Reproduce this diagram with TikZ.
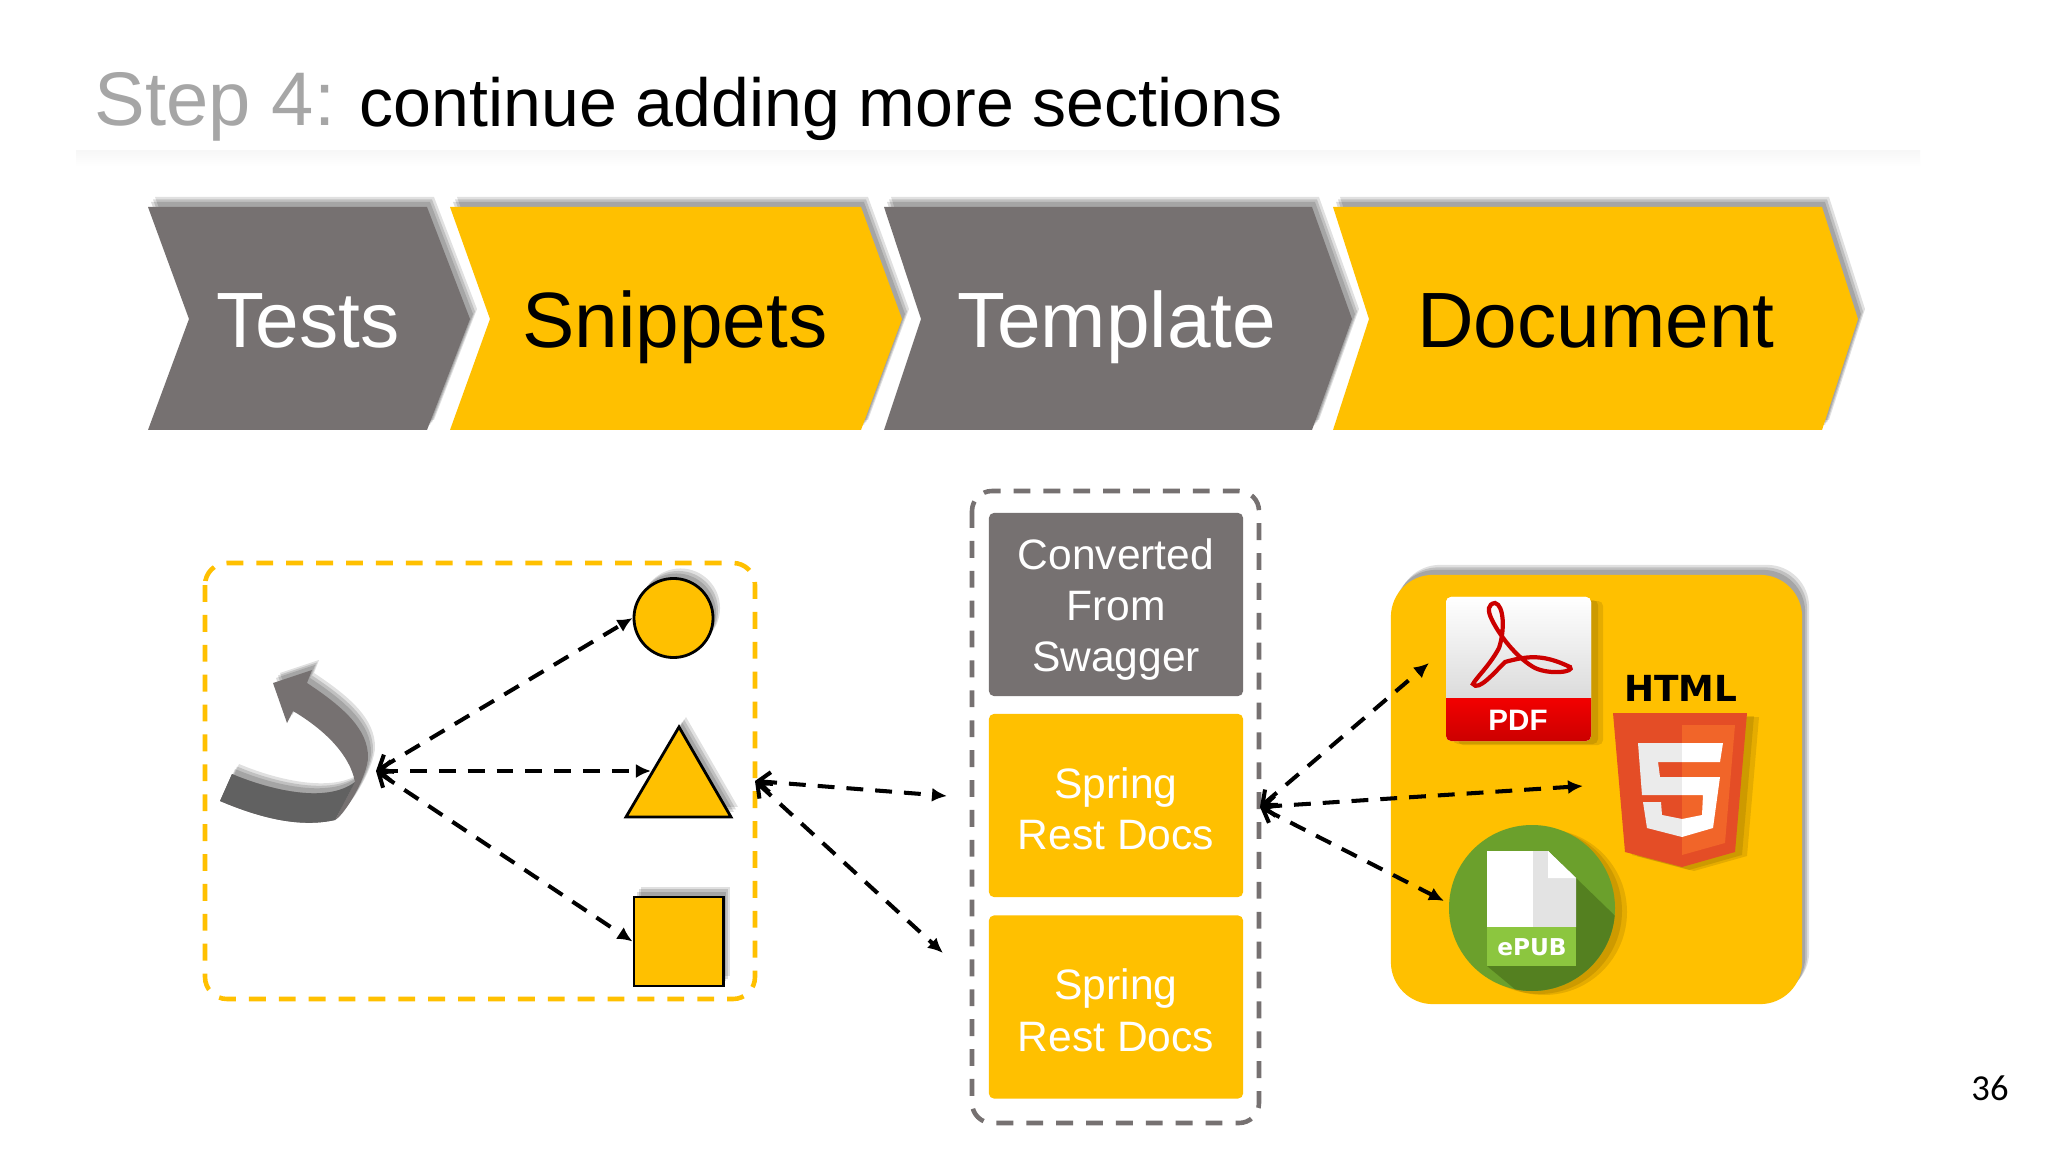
\documentclass[tikz,border=0pt]{standalone}
\usepackage{fontspec}
\setmainfont{Liberation Sans}
\newfontfamily\slidefont{Carlito}
\newfontfamily\iconfont{DejaVu Sans}
\usetikzlibrary{arrows.meta,shadows}
\definecolor{sgray}{HTML}{767171}
\definecolor{syellow}{HTML}{FFC000}
\definecolor{stitle}{HTML}{A6A6A6}
\tikzset{
softshadow/.style={
  general shadow={shadow xshift=.03cm,shadow yshift=.05cm,draw=none,fill=black,opacity=.14},
  general shadow={shadow xshift=.05cm,shadow yshift=.075cm,draw=none,fill=black,opacity=.14},
  general shadow={shadow xshift=.07cm,shadow yshift=.10cm,draw=none,fill=black,opacity=.12}},
iconshadow/.style={
  general shadow={shadow xshift=.07cm,shadow yshift=-.03cm,draw=none,fill=black,opacity=.10},
  general shadow={shadow xshift=.12cm,shadow yshift=-.04cm,draw=none,fill=black,opacity=.10}},
chevlabel/.style={font=\fontsize{22.3}{22.3}\selectfont,anchor=base},
hubflow/.style={{Straight Barb[length=1.2mm,width=2mm]}-{Latex[length=1.5mm,width=1.4mm]},line width=1.15pt,dash pattern=on 4.8pt off 3.4pt},
shapebox/.style={draw=black,line width=.8pt,fill=syellow,softshadow,inner sep=0pt},
stepbox/.style={rounded corners=.05cm,minimum width=2.54cm,minimum height=1.83cm,inner sep=0pt,align=center,text=white,font=\fontsize{12.1}{14.6}\selectfont}
}
\begin{document}
\begin{tikzpicture}[x=.01cm,y=-.01cm]
\useasboundingbox[fill=white] (0,0) rectangle (2048,1152);
% title
\node[anchor=base west,inner sep=0pt,text=stitle,font=\fontsize{21.6}{25}\selectfont] (steptitle) at (94,126) {Step 4:};
\node[anchor=base west,inner sep=0pt,font=\fontsize{19.35}{23}\selectfont] (titletext) at (359,127) {continue adding more sections};
\shade[top color=black!3,bottom color=white,draw=none] (76,151) rectangle (1920,167);
% chevrons
\fill[sgray,softshadow] (148,207) -- (427,207) -- (470,319) -- (427,430) -- (148,430) -- (189,319) -- cycle;
\fill[syellow,softshadow] (450,207) -- (861,207) -- (902,319) -- (861,430) -- (450,430) -- (490,319) -- cycle;
\fill[sgray,softshadow] (884,207) -- (1312,207) -- (1352,319) -- (1312,430) -- (884,430) -- (921,319) -- cycle;
\fill[syellow,softshadow] (1333,207) -- (1822,207) -- (1858,319) -- (1822,430) -- (1333,430) -- (1369,319) -- cycle;
\node[chevlabel,text=white] (tests) at (308,348) {Tests};
\node[chevlabel] (snippets) at (675,348) {Snippets};
\node[chevlabel,text=white] (template) at (1117,348) {Template};
\node[chevlabel] (document) at (1596,348) {Document};
% left group
\draw[syellow,line width=1.3pt,rounded corners=.22cm,dash pattern=on 4.8pt off 3.7pt] (205,563) rectangle (755,999);
\fill[sgray!85!white,softshadow] (232,774) .. controls (265,788) and (325,805) .. (355,782) -- (335,820) .. controls (300,828) and (260,818) .. (220,801) -- cycle;
\fill[sgray,softshadow] (355,782) .. controls (350,755) and (325,730) .. (293,711) -- (287,723) -- (273,683) -- (312,670) -- (307,683) .. controls (345,708) and (368,730) .. (368,757) .. controls (368,775) and (345,815) .. (335,820) -- cycle;
\fill[black!62] (232,774) .. controls (265,788) and (325,805) .. (355,782) -- (335,820) .. controls (300,828) and (260,818) .. (220,801) -- cycle;
\node[shapebox,circle,minimum size=.79cm] (ball) at (673.5,618) {};
\node[shapebox,minimum width=.895cm,minimum height=.89cm] (cube) at (678.7,941.5) {};
\draw[draw=black,line width=.8pt,fill=syellow,softshadow] (679,727) -- (731,817) -- (626,817) -- cycle;
\coordinate (hub) at (376,771);
\coordinate (cone) at (651,771);
\draw[hubflow] (hub) -- (ball.west);
\draw[hubflow] (hub) -- (cone);
\draw[hubflow] (hub) -- (cube.west);
% middle group
\draw[sgray,line width=1.3pt,rounded corners=.2cm,dash pattern=on 4.8pt off 3.7pt] (972,491) rectangle (1259,1123);
\node[stepbox,fill=sgray] (swagger) at (1116,604.5) {\rule{0pt}{11.6pt}Converted\\From\\Swagger};
\node[stepbox,fill=syellow] (restone) at (1116,805.5) {\rule{0pt}{10.6pt}Spring\\Rest Docs};
\node[stepbox,fill=syellow] (resttwo) at (1116,1007) {\rule{0pt}{10.6pt}Spring\\Rest Docs};
\coordinate (lefthub) at (755,781);
\coordinate (toone) at (947,796);
\coordinate (totwo) at (943,953);
\draw[hubflow] (lefthub) -- (toone);
\draw[hubflow] (lefthub) -- (totwo);
% outputs
\node[fill=syellow,rounded corners=.42cm,minimum width=4.11cm,minimum height=4.29cm,inner sep=0pt,softshadow] (panel) at (1596.5,789.5) {};
\fill[iconshadow,white,rounded corners=.05cm] (1446,597) rectangle (1591,741);
\shade[top color=white,bottom color=black!15,rounded corners=.05cm] (1446,597) rectangle (1591,705);
\shade[top color=red!95!black,bottom color=red!80!black] (1446,698) -- (1591,698) [rounded corners=.05cm] -- (1591,741) -- (1446,741) [sharp corners] -- cycle;
\draw[red!80!black,line width=1.2pt] (1495,603) .. controls (1504,605) and (1505,630) .. (1499,648) .. controls (1490,665) and (1476,678) .. (1473,684) .. controls (1478,692) and (1495,672) .. (1505,662) .. controls (1530,655) and (1545,655) .. (1570,667) .. controls (1575,672) and (1550,675) .. (1535,668) .. controls (1520,660) and (1502,640) .. (1492,620) .. controls (1487,610) and (1488,604) .. (1495,603) -- cycle;
\node[text=white,font=\bfseries\fontsize{8.4}{8.4}\selectfont,inner sep=0pt] (pdflabel) at (1518,720) {PDF};
\node[font=\iconfont\bfseries\fontsize{10.2}{10.2}\selectfont,inner sep=0pt,anchor=base] (htmllabel) at (1681,702) {HTML};
\path[iconshadow] (1613,713) -- (1747,713) -- (1735,852) -- (1682,867) -- (1625,852) -- cycle;
\fill[fill={rgb,255:red,228;green,77;blue,38}] (1613,713) -- (1747,713) -- (1735,852) -- (1682,867) -- (1625,852) -- cycle;
\fill[fill={rgb,255:red,241;green,101;blue,41}] (1682,725) -- (1735,725) -- (1725,843) -- (1682,855) -- cycle;
\fill[black!8] (1638,743) -- (1682,743) -- (1682,762) -- (1658,762) -- (1660,777) -- (1682,777) -- (1682,795) -- (1642,795) -- cycle;
\fill[black!8] (1643,802) -- (1661,802) -- (1662,815) -- (1682,819) -- (1682,837) -- (1647,828) -- cycle;
\fill[white] (1682,743) -- (1723,743) -- (1720,762) -- (1682,762) -- cycle;
\fill[white] (1682,777) -- (1720,777) -- (1713,828) -- (1682,837) -- (1682,819) -- (1702,815) -- (1703,795) -- (1682,795) -- cycle;
\fill[fill={rgb,255:red,107;green,160;blue,44},iconshadow] (1532,908) circle[radius=83];
\begin{scope}
\clip (1532,908) circle[radius=83];
\fill[fill={rgb,255:red,84;green,128;blue,32}] (1576,878) -- (1640,940) -- (1540,1010) -- (1487,966) -- cycle;
\end{scope}
\fill[white] (1487,851) -- (1533,851) -- (1533,927) -- (1487,927) -- cycle;
\fill[black!11] (1533,851) -- (1548,851) -- (1576,878) -- (1576,927) -- (1533,927) -- cycle;
\fill[white] (1548,851) -- (1576,878) -- (1548,878) -- cycle;
\fill[fill={rgb,255:red,140;green,198;blue,63}] (1487,927) rectangle (1576,966);
\node[text=white,font=\iconfont\bfseries\fontsize{6.6}{6.6}\selectfont,inner sep=0pt] (epublabel) at (1532,947) {ePUB};
\coordinate (righthub) at (1260,807);
\coordinate (topdf) at (1429,663);
\coordinate (tohtml) at (1583,786);
\coordinate (toepub) at (1444,901);
\draw[hubflow] (righthub) -- (topdf);
\draw[hubflow] (righthub) -- (tohtml);
\draw[hubflow] (righthub) -- (toepub);
% page number
\node[font=\slidefont\fontsize{10.4}{10.4}\selectfont,inner sep=0pt] (pagenum) at (1990,1088) {36};
\end{tikzpicture}
\end{document}
